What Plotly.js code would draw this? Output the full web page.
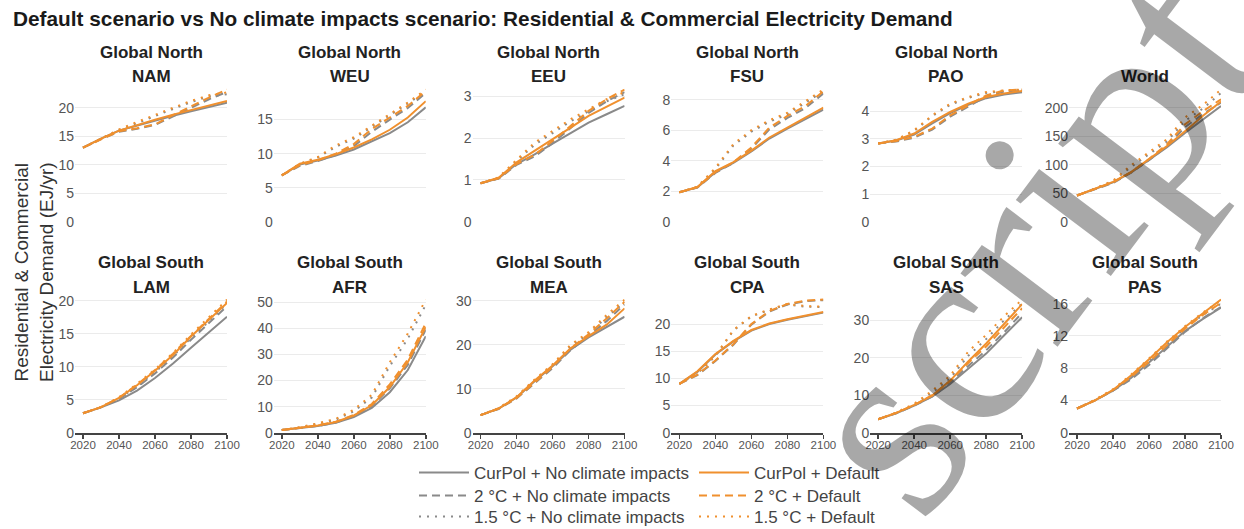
<!DOCTYPE html>
<html>
<head>
<meta charset="utf-8">
<script src="https://cdn.plot.ly/plotly-3.0.1.min.js"></script>
<style>
  html, body { margin: 0; padding: 0; background: #fff; }
  #chart { width: 1244px; height: 529px; }
</style>
</head>
<body>
<div id="chart"></div>
<script>
// ---------------- DATA ----------------
const years = [2020, 2030, 2040, 2050, 2060, 2070, 2080, 2090, 2100];
const regions = ['NAM', 'WEU', 'EEU', 'FSU', 'PAO', 'World', 'LAM', 'AFR', 'MEA', 'CPA', 'SAS', 'PAS'];
const groupLabels = ['Global North', 'Global North', 'Global North', 'Global North', 'Global North', '',
                     'Global South', 'Global South', 'Global South', 'Global South', 'Global South', 'Global South'];
const yTickSteps = [5, 5, 1, 2, 1, 50, 5, 10, 10, 5, 10, 4];

// rows follow the order of `regions`
const curpolNoImpacts = [
  [13.0, 14.6, 16.0, 16.9, 17.8, 18.6, 19.4, 20.2, 20.9],
  [6.8, 8.4, 9.0, 9.7, 10.6, 11.8, 13.0, 14.6, 16.8],
  [0.92, 1.04, 1.38, 1.61, 1.87, 2.13, 2.37, 2.57, 2.77],
  [1.93, 2.25, 3.25, 3.85, 4.6, 5.45, 6.1, 6.7, 7.35],
  [2.83, 2.94, 3.15, 3.56, 3.93, 4.23, 4.47, 4.6, 4.68],
  [46, 58, 69, 86, 108, 131, 156, 180, 203],
  [2.96, 3.85, 4.9, 6.4, 8.3, 10.5, 12.9, 15.3, 17.6],
  [1.0, 1.8, 2.6, 3.8, 6.0, 9.5, 15.5, 24, 37],
  [4.0, 5.5, 8.0, 11.7, 15.1, 18.9, 21.7, 24.0, 26.4],
  [9.0, 11.2, 14.4, 16.8, 18.8, 20.0, 20.8, 21.4, 22.1],
  [3.6, 5.2, 7.2, 9.6, 13.0, 17.0, 21.1, 26.0, 30.8],
  [3.0, 4.0, 5.2, 6.8, 8.7, 10.7, 12.6, 14.1, 15.5]
];
const curpolDefault = [
  [13.0, 14.6, 16.0, 17.0, 17.9, 18.8, 19.6, 20.4, 21.2],
  [6.8, 8.5, 9.1, 9.9, 10.9, 12.1, 13.5, 15.3, 17.7],
  [0.92, 1.05, 1.42, 1.69, 1.97, 2.25, 2.53, 2.75, 2.97],
  [1.93, 2.27, 3.31, 3.9, 4.66, 5.52, 6.17, 6.8, 7.47],
  [2.83, 2.95, 3.19, 3.61, 3.97, 4.27, 4.51, 4.64, 4.73],
  [46, 58, 70, 87, 110, 133, 159, 186, 211],
  [2.96, 3.87, 5.3, 7.2, 9.4, 11.8, 14.6, 17.1, 19.7],
  [1.0, 1.9, 2.8, 4.1, 6.6, 10.5, 17.5, 27, 40.5],
  [4.0, 5.5, 8.1, 11.9, 15.3, 19.2, 22.0, 24.6, 28.3],
  [9.0, 11.3, 14.5, 16.9, 18.9, 20.1, 20.9, 21.5, 22.2],
  [3.6, 5.3, 7.4, 9.9, 13.9, 19.0, 23.8, 29.0, 34.3],
  [3.0, 4.0, 5.3, 7.1, 9.1, 11.2, 13.1, 14.8, 16.5]
];
const twoCNoImpacts = [
  [13.0, 14.5, 15.8, 16.3, 17.0, 18.5, 20.0, 21.5, 22.8],
  [6.8, 8.2, 8.9, 9.8, 11.1, 13.2, 15.0, 16.7, 18.9],
  [0.92, 1.03, 1.36, 1.56, 1.88, 2.25, 2.60, 2.88, 3.10],
  [1.93, 2.24, 3.2, 3.85, 4.8, 6.05, 6.8, 7.45, 8.4],
  [2.83, 2.9, 3.04, 3.33, 3.8, 4.17, 4.53, 4.71, 4.76],
  [46, 57, 68, 86, 108, 133, 166, 189, 209],
  [2.96, 3.85, 5.1, 6.9, 9.0, 11.4, 14.1, 16.6, 19.2],
  [1.0, 1.8, 2.6, 3.9, 6.3, 10.2, 17.0, 26, 39.5],
  [4.0, 5.4, 7.8, 11.3, 14.7, 18.8, 22.0, 25.4, 29.2],
  [9.0, 10.6, 13.2, 16.2, 19.9, 22.3, 23.6, 24.2, 24.4],
  [3.6, 5.2, 7.2, 9.7, 13.3, 17.8, 22.0, 26.8, 32.0],
  [3.0, 4.0, 5.2, 6.6, 8.4, 10.4, 12.5, 14.2, 15.6]
];
const twoCDefault = [
  [13.0, 14.5, 15.9, 16.4, 17.1, 18.7, 20.3, 21.8, 23.2],
  [6.8, 8.3, 9.0, 10.0, 11.4, 13.6, 15.3, 17.0, 19.2],
  [0.92, 1.04, 1.38, 1.60, 1.93, 2.29, 2.65, 2.93, 3.16],
  [1.93, 2.26, 3.25, 3.9, 4.87, 6.17, 6.93, 7.58, 8.55],
  [2.83, 2.92, 3.07, 3.37, 3.85, 4.21, 4.57, 4.75, 4.78],
  [46, 58, 69, 87, 110, 136, 171, 194, 215],
  [2.96, 3.87, 5.3, 7.3, 9.5, 12.0, 14.7, 17.3, 19.9],
  [1.0, 1.9, 2.8, 4.2, 6.8, 11.0, 18.5, 28, 42],
  [4.0, 5.5, 7.9, 11.5, 15.0, 19.2, 22.4, 26.0, 29.8],
  [9.0, 10.7, 13.3, 16.3, 20.0, 22.4, 23.7, 24.3, 24.5],
  [3.6, 5.3, 7.4, 10.0, 13.8, 18.6, 23.0, 28.0, 33.2],
  [3.0, 4.0, 5.3, 6.9, 8.8, 10.9, 12.9, 14.6, 16.1]
];
const onefiveNoImpacts = [
  [13.0, 14.6, 16.1, 17.3, 18.6, 19.8, 21.0, 22.0, 22.4],
  [6.8, 8.5, 9.4, 11.0, 12.2, 13.9, 15.6, 17.3, 19.1],
  [0.92, 1.05, 1.45, 1.84, 2.12, 2.40, 2.64, 2.88, 3.05],
  [1.93, 2.28, 3.45, 5.0, 5.9, 6.55, 7.05, 7.8, 8.55],
  [2.83, 2.96, 3.28, 3.82, 4.23, 4.48, 4.66, 4.73, 4.76],
  [46, 58, 71, 96, 118, 141, 177, 199, 226],
  [2.96, 3.86, 5.2, 7.0, 9.2, 11.6, 14.4, 16.9, 19.6],
  [1.0, 2.0, 3.4, 5.0, 8.2, 13.5, 25.5, 36, 49],
  [4.0, 5.5, 8.1, 11.9, 15.4, 19.6, 22.5, 26.3, 29.7],
  [9.0, 10.9, 14.1, 18.8, 21.4, 22.6, 23.6, 23.2, 23.1],
  [3.6, 5.3, 7.5, 10.7, 14.5, 20.5, 25.0, 30.0, 34.5],
  [3.0, 4.0, 5.3, 6.9, 8.9, 11.0, 13.0, 14.6, 16.0]
];
const onefiveDefault = [
  [13.0, 14.6, 16.2, 17.5, 18.8, 20.0, 21.2, 22.2, 22.7],
  [6.8, 8.5, 9.5, 11.2, 12.4, 14.1, 15.8, 17.5, 19.4],
  [0.92, 1.06, 1.48, 1.89, 2.17, 2.45, 2.69, 2.93, 3.10],
  [1.93, 2.3, 3.53, 5.09, 6.0, 6.65, 7.14, 7.9, 8.66],
  [2.83, 2.97, 3.31, 3.85, 4.27, 4.51, 4.69, 4.75, 4.78],
  [46, 58, 72, 99, 122, 145, 183, 205, 232],
  [2.96, 3.88, 5.4, 7.4, 9.6, 12.1, 14.9, 17.5, 20.2],
  [1.0, 2.1, 3.6, 5.3, 8.8, 14.5, 27, 38, 51],
  [4.0, 5.6, 8.3, 12.1, 15.6, 20.0, 22.9, 26.8, 30.3],
  [9.0, 11.0, 14.2, 18.9, 21.5, 22.7, 23.7, 23.3, 23.2],
  [3.6, 5.4, 7.7, 11.2, 15.2, 21.6, 26.1, 31.1, 35.5],
  [3.0, 4.1, 5.4, 7.2, 9.2, 11.3, 13.2, 14.9, 16.4]
];

const seriesNames = ['CurPol + No climate impacts', '2 °C + No climate impacts', '1.5 °C + No climate impacts',
                     'CurPol + Default', '2 °C + Default', '1.5 °C + Default'];
const seriesData = [curpolNoImpacts, twoCNoImpacts, onefiveNoImpacts, curpolDefault, twoCDefault, onefiveDefault];

// ---------------- STYLE / GEOMETRY ----------------
const GRAY = '#8a8a8a', ORANGE = '#F0902E';
const seriesStyle = [
  {color: GRAY, dash: 'solid'}, {color: GRAY, dash: '8px,5px'}, {color: GRAY, dash: '2px,6px'},
  {color: ORANGE, dash: 'solid'}, {color: ORANGE, dash: '8px,5px'}, {color: ORANGE, dash: '2px,6px'}
];
const W = 1244, H = 529;
const colLeft0 = 75, colStep = 198.8, plotW = 152;
const rowBox = [[88, 221.7], [298, 432.7]];
const titleLines = [[52, 76], [262, 287]];
const legendCols = [414, 694];
const legendRows = [473, 496, 517];

const traces = [];
const layout = {
  width: W, height: H,
  margin: {l: 0, r: 0, t: 0, b: 0, autoexpand: false},
  paper_bgcolor: '#ffffff', plot_bgcolor: '#ffffff',
  font: {family: 'Liberation Sans, Arial, sans-serif', color: '#444'},
  title: {
    text: '<b>Default scenario vs No climate impacts scenario: Residential & Commercial Electricity Demand</b>',
    font: {size: 20.8, color: '#1a1a1a'},
    xref: 'container', yref: 'container', x: 13 / W, xanchor: 'left', y: 1 - 19 / H, yanchor: 'middle'
  },
  annotations: [],
  showlegend: true
};

// one single-entry legend per legend cell (2 columns x 3 rows)
seriesNames.forEach((nm, k) => {
  const key = k === 0 ? 'legend' : 'legend' + (k + 1);
  const col = Math.floor(k / 3), row = k % 3;
  layout[key] = {
    x: legendCols[col] / W, xanchor: 'left',
    y: 1 - legendRows[row] / H, yanchor: 'middle',
    bgcolor: 'rgba(0,0,0,0)', borderwidth: 0,
    font: {size: 17, color: '#444'}, itemwidth: 50, tracegroupgap: 0
  };
});

regions.forEach((reg, i) => {
  const r = Math.floor(i / 6), c = i % 6;
  const n = i + 1;
  const xk = n === 1 ? 'xaxis' : 'xaxis' + n;
  const yk = n === 1 ? 'yaxis' : 'yaxis' + n;
  const xid = n === 1 ? 'x' : 'x' + n;
  const yid = n === 1 ? 'y' : 'y' + n;
  const left = colLeft0 + c * colStep;
  const [top, bottom] = rowBox[r];

  let ymax = 0;
  seriesData.forEach(d => { ymax = Math.max(ymax, ...d[i]); });

  layout[xk] = {
    domain: [left / W, (left + plotW) / W], anchor: yid,
    range: [2015.55, 2100], tickvals: [2020, 2040, 2060, 2080, 2100],
    showgrid: false, zeroline: false,
    showticklabels: r === 1, ticks: r === 1 ? 'outside' : '', ticklen: 4, tickwidth: 1.5, tickcolor: '#444',
    showline: r === 1, linecolor: '#444', linewidth: 2, ticklabelstandoff: -4,
    tickfont: {size: 11.5, color: '#555'}, fixedrange: true
  };
  layout[yk] = {
    domain: [1 - bottom / H, 1 - top / H], anchor: xid,
    range: [0, ymax * 1.012], tick0: 0, dtick: yTickSteps[i],
    showgrid: true, gridcolor: '#ebebeb', gridwidth: 1, zeroline: false, showline: false, ticks: '',
    tickfont: {size: 14, color: '#555'}, fixedrange: true
  };

  seriesData.forEach((d, k) => {
    traces.push({
      type: 'scatter', mode: 'lines', x: years, y: d[i],
      xaxis: xid, yaxis: yid, name: seriesNames[k],
      legend: k === 0 ? 'legend' : 'legend' + (k + 1),
      showlegend: i === 0,
      line: {color: seriesStyle[k].color, width: 2, dash: seriesStyle[k].dash},
      hoverinfo: 'skip'
    });
  });

  const cx = (left + plotW / 2) / W;
  if (groupLabels[i]) {
    layout.annotations.push({
      xref: 'paper', yref: 'paper', x: cx, y: 1 - titleLines[r][0] / H,
      xanchor: 'center', yanchor: 'middle', showarrow: false,
      text: '<b>' + groupLabels[i] + '</b>', font: {size: 17, color: '#222'}
    });
  }
  layout.annotations.push({
    xref: 'paper', yref: 'paper', x: cx, y: 1 - titleLines[r][1] / H,
    xanchor: 'center', yanchor: 'middle', showarrow: false,
    text: '<b>' + reg + '</b>', font: {size: 17, color: '#222'}
  });
});

// y-axis title
layout.annotations.push({
  xref: 'paper', yref: 'paper', x: 34 / W, y: 1 - 272 / H,
  xanchor: 'center', yanchor: 'middle', showarrow: false, textangle: -90,
  text: 'Residential & Commercial<br>Electricity Demand (EJ/yr)',
  font: {size: 19, color: '#333'}
});

// watermark overlay
layout.annotations.push({
  xref: 'paper', yref: 'paper', x: 1028 / W, y: 1 - 238 / H,
  xanchor: 'center', yanchor: 'middle', showarrow: false, textangle: -53,
  text: 'script', font: {family: 'Liberation Serif, Times New Roman, serif', size: 265, color: 'rgba(0,0,0,0.34)'}
});

Plotly.newPlot('chart', traces, layout, {displayModeBar: false, staticPlot: true});
</script>
</body>
</html>
